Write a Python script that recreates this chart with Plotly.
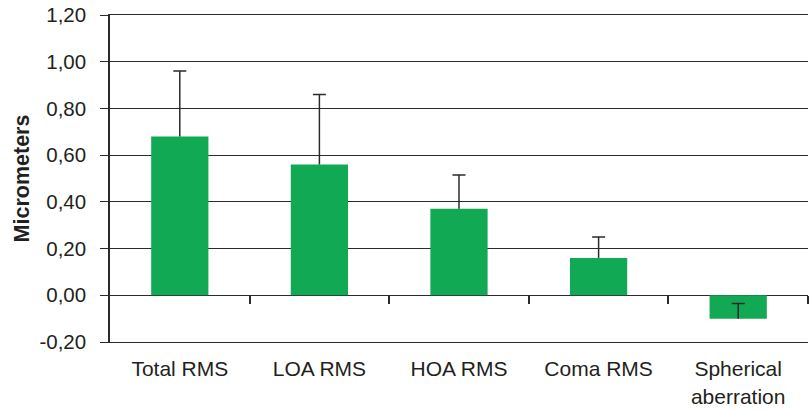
import plotly.graph_objects as go

categories = ["Total RMS", "LOA RMS", "HOA RMS", "Coma RMS", "Spherical<br>aberration"]
means = [0.68, 0.56, 0.37, 0.16, -0.10]
sd_plus = [0.28, 0.30, 0.145, 0.09, 0.065]
y_tickvals = [-0.2, 0.0, 0.2, 0.4, 0.6, 0.8, 1.0, 1.2]
y_ticktext = ["-0,20", "0,00", "0,20", "0,40", "0,60", "0,80", "1,00", "1,20"]

GREEN = "#12A955"
DARK = "#2b2b2b"
FONT = "Liberation Sans, Arial, sans-serif"

idx = list(range(len(categories)))
tops = [m + s for m, s in zip(means, sd_plus)]

fig = go.Figure()
fig.add_trace(go.Bar(
    x=categories, y=means, marker=dict(color=GREEN, line=dict(width=0)),
    width=0.41,
    error_y=dict(type="data", symmetric=False, array=sd_plus,
                 arrayminus=[0] * len(means), color=DARK, thickness=1.5, width=0),
    showlegend=False, hoverinfo="skip",
))
# caps of the error bars
fig.add_trace(go.Scatter(
    x=idx, y=tops, xaxis="x2", mode="markers",
    marker=dict(size=1, opacity=0),
    error_y=dict(type="data", array=[0] * len(tops), color=DARK, thickness=1.5, width=6.5),
    showlegend=False, hoverinfo="skip",
))

y_lo, y_hi = -0.2, 1.2

fig.update_layout(
    width=811, height=411,
    margin=dict(l=110, r=3, t=15, b=69),
    paper_bgcolor="white", plot_bgcolor="white",
    font=dict(family=FONT, size=20.5, color="#231f20"),
    bargap=0.59,
    xaxis=dict(
        type="category", showgrid=False, showline=True, mirror=True,
        linecolor=DARK, linewidth=1,
        ticks="", ticklabelstandoff=8, tickfont=dict(size=21),
        range=[-0.5, 4.5], automargin=False,
    ),
    xaxis2=dict(
        overlaying="x", anchor="free", position=(0 - y_lo) / (y_hi - y_lo), side="bottom",
        range=[-0.5, 4.5], showgrid=False, zeroline=False, showline=False,
        tickmode="array", tickvals=[i + 0.5 for i in idx], ticks="outside",
        ticklen=8, tickwidth=1.5, tickcolor=DARK, showticklabels=False,
        automargin=False,
    ),
    yaxis=dict(
        range=[y_lo, y_hi], tickmode="array", tickvals=y_tickvals, ticktext=y_ticktext,
        showgrid=True, gridcolor=DARK, gridwidth=1, zeroline=False,
        showline=True, linecolor=DARK, linewidth=1.5,
        ticks="outside", ticklen=8, tickcolor=DARK, tickwidth=1,
        tickfont=dict(size=20.5), automargin=False, ticklabelstandoff=10,
        ticklabeloverflow="allow",
        title=dict(text="<b>Micrometers</b>", font=dict(size=21.5), standoff=4),
    ),
)

fig.write_html("out.html", config={"displayModeBar": False},
               post_script="document.body.style.margin='0px';")
